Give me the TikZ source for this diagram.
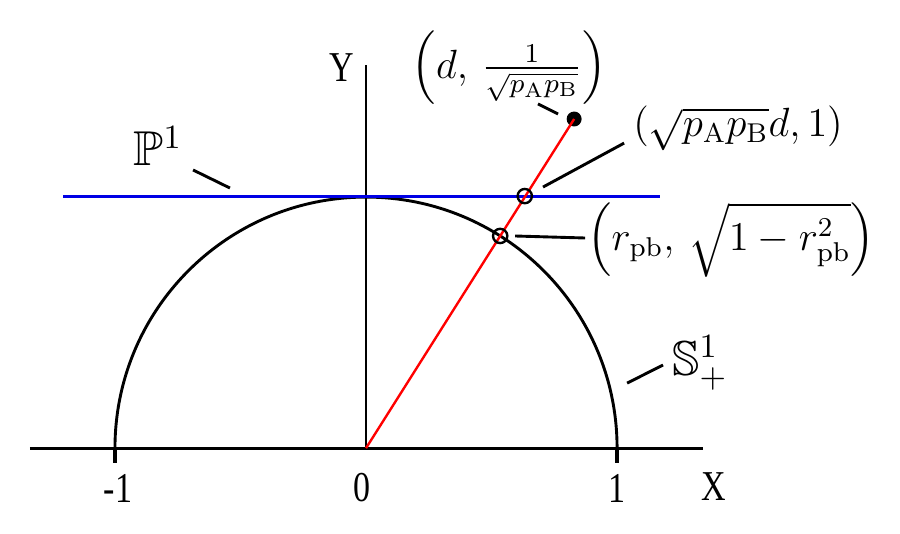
\documentclass[tikz,border=0pt]{standalone}
\usepackage{amsmath,amssymb}
\usepackage{fontspec}
\newfontfamily\axfont{Liberation Serif}
\begin{document}
\begin{tikzpicture}[x=73.8pt,y=73.8pt,
  axis/.style={line width=0.85pt,black},
  tickmark/.style={line width=1.3pt,black},
  leader/.style={line width=0.85pt,black},
  axlabel/.style={inner sep=0pt,font=\axfont\fontsize{12.5}{13}\selectfont},
  mlabel/.style={inner sep=0pt,font=\large},
  openpt/.style={circle,draw,line width=0.7pt,minimum size=4.2pt,inner sep=0pt,fill=none},
  fullpt/.style={circle,fill,minimum size=4.4pt,inner sep=0pt}]
\useasboundingbox (-1.458,-0.339) rectangle (2.127,1.785);
% axes
\coordinate (O) at (0,0);
\coordinate (xl) at (-1.339,0);
\coordinate (xr) at (1.343,0);
\coordinate (yt) at (0,1.526);
\draw[axis] (xl) -- (xr);
\draw[axis] (O) -- (yt);
% ticks
\coordinate (tm) at (-1,0);
\coordinate (tp) at (1,0);
\draw[tickmark] (tm) -- ++(0,-0.058);
\draw[tickmark] (tp) -- ++(0,-0.058);
% semicircle
\draw[axis] (tp) arc[start angle=0,end angle=180,radius=1];
% blue line
\coordinate (bl) at (-1.207,1.004);
\coordinate (br) at (1.171,1.004);
\draw[blue!90!black,line width=0.85pt] (bl) -- (br);
% red line
\node[fullpt] (E) at (0.829,1.311) {};
\draw[red,line width=0.7pt] (O) -- (E.center);
\node[openpt] (A) at (0.6323,1.004) {};
\node[openpt] (B) at (0.5344,0.8452) {};
% axis labels
\node[axlabel] (ly) at (-0.096,1.514) {\scalebox{0.8}[1]{Y}};
\node[axlabel] (lx) at (1.386,-0.155) {\scalebox{0.8}[1]{X}};
\node[axlabel] (lm1) at (-0.988,-0.159) {\scalebox{0.8}[1]{-1}};
\node[axlabel] (l0) at (-0.016,-0.159) {\scalebox{0.8}[1]{0}};
\node[axlabel] (l1) at (1.0,-0.159) {\scalebox{0.8}[1]{1}};
% set labels
\node[mlabel,font=\Large] (P) at (-0.829,1.203) {$\mathbb{P}^1$};
\coordinate (p1) at (-0.689,1.108);
\coordinate (p2) at (-0.542,1.036);
\draw[leader] (p1) -- (p2);
\node[mlabel,font=\Large] (S) at (1.331,0.339) {$\mathbb{S}^1_+$};
\coordinate (s1) at (1.040,0.259);
\coordinate (s2) at (1.183,0.331);
\draw[leader] (s1) -- (s2);
% point labels
\node[mlabel] (LE) at (0.570,1.514) {$\left(d,\,\frac{1}{\sqrt{p_{\mathrm{A}}p_{\mathrm{B}}}}\right)$};
\coordinate (e1) at (0.685,1.371);
\coordinate (e2) at (0.765,1.331);
\draw[leader] (e1) -- (e2);
\node[mlabel] (LA) at (1.482,1.275) {$(\sqrt{p_{\mathrm{A}}p_{\mathrm{B}}}d,1)$};
\coordinate (a1) at (1.028,1.215);
\coordinate (a2) at (0.705,1.040);
\draw[leader] (a1) -- (a2);
\node[mlabel] (LB) at (1.454,0.829) {$\left(r_{\mathrm{pb}},\,\sqrt{1-r_{\mathrm{pb}}^2}\right)$};
\coordinate (b1) at (0.873,0.837);
\coordinate (b2) at (0.594,0.845);
\draw[leader] (b1) -- (b2);
\end{tikzpicture}
\end{document}
